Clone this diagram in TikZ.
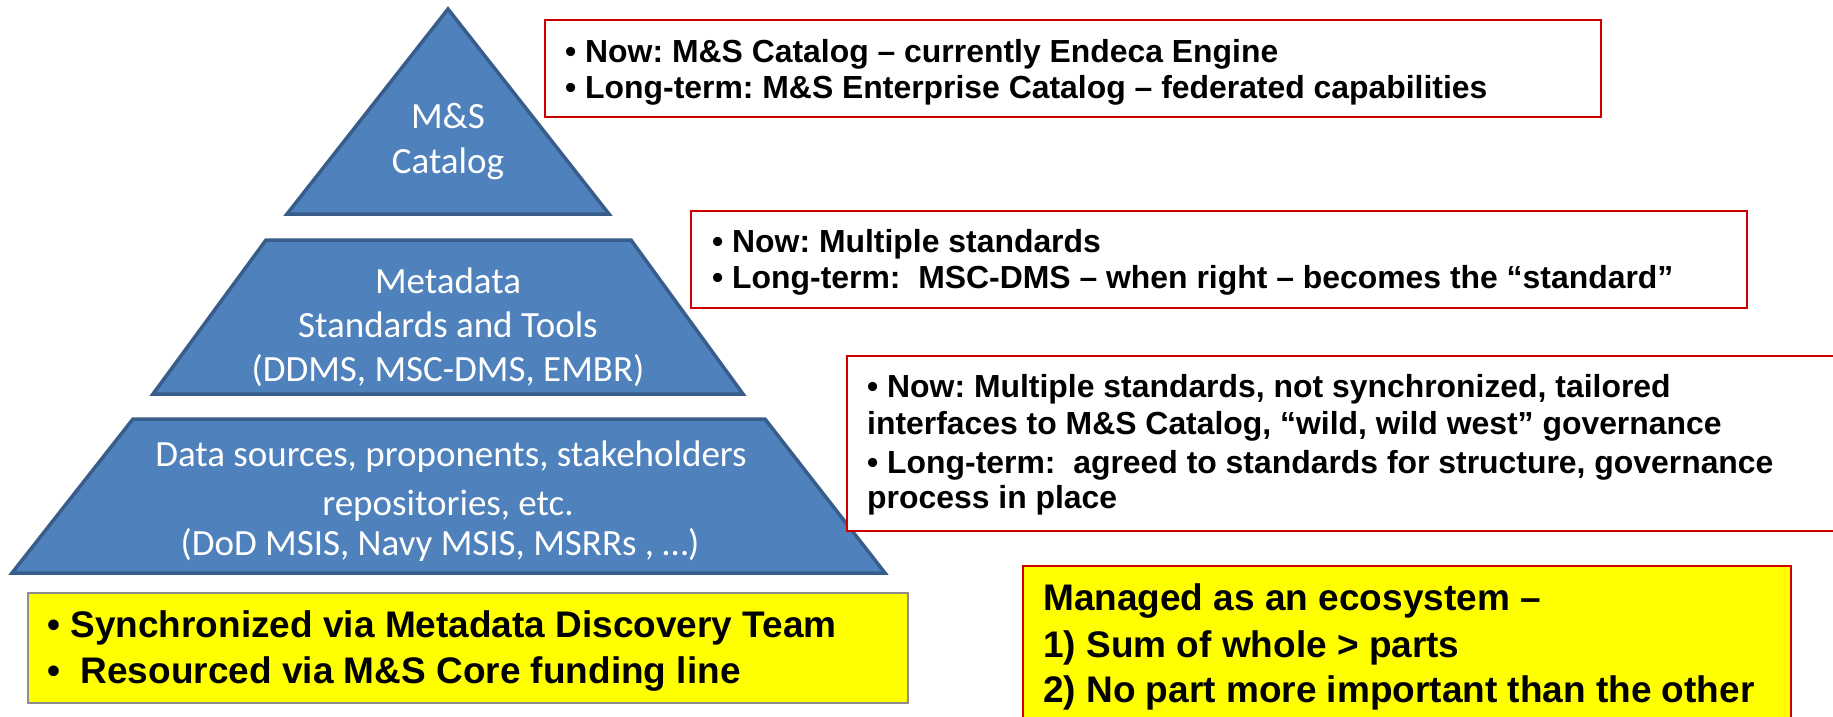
\documentclass[tikz,border=0pt]{standalone}
\usepackage{fontspec}
\setmainfont{Liberation Sans}
\newfontfamily\calfont{Carlito}
\frenchspacing
\definecolor{pyrfill}{RGB}{79,129,189}
\definecolor{pyrdraw}{RGB}{56,93,138}
\definecolor{boxred}{RGB}{204,0,0}
\definecolor{boxgray}{RGB}{140,140,140}
\definecolor{hiyellow}{RGB}{255,255,0}
\tikzset{
  layer/.style={fill=pyrfill, draw=pyrdraw, line width=3.5pt, line join=miter},
  notebox/.style={draw=boxred, line width=2.5pt, fill=white},
  yelbox/.style={fill=hiyellow, line width=2.5pt},
  pyrtxt/.style={anchor=base, inner sep=0pt, text=white, font=\calfont\fontsize{37}{44}\selectfont},
  notetxt/.style={anchor=base west, inner sep=0pt, font=\frenchspacing\bfseries\fontsize{31.9}{38}\selectfont},
  bigtxt/.style={anchor=base west, inner sep=0pt, font=\frenchspacing\bfseries\fontsize{37}{44}\selectfont},
}
\begin{document}
\begin{tikzpicture}[x=1pt,y=-1pt]
\clip (0,0) rectangle (1833,716);
\fill[white] (0,0) rectangle (1833,716);
% pyramid layers
\draw[layer] (448,9) -- (609,214) -- (287,214) -- cycle;
\draw[layer] (266,240) -- (631,240) -- (743,394) -- (153,394) -- cycle;
\draw[layer] (133,419) -- (765,419) -- (885,573) -- (12,573) -- cycle;
\node[pyrtxt] (t1) at (448,128) {M\&S};
\node[pyrtxt] (t2) at (448,173) {Catalog};
\node[pyrtxt] (m1) at (448,293) {Metadata};
\node[pyrtxt] (m2) at (448,337) {Standards and Tools};
\node[pyrtxt] (m3) at (448,381) {(DDMS, MSC-DMS, EMBR)};
\node[pyrtxt] (d1) at (451,466) {Data sources, proponents, stakeholders};
\node[pyrtxt] (d2) at (448,515) {repositories, etc.};
\node[pyrtxt] (d3) at (440,555) {(DoD MSIS, Navy MSIS, MSRRs , …)};
% note boxes
\draw[notebox] (545,20) rectangle (1601,117);
\node[notetxt] (a1) at (565,62) {• Now: M\&S Catalog – currently Endeca Engine};
\node[notetxt] (a2) at (565,98) {• Long-term: M\&S Enterprise Catalog – federated capabilities};
\draw[notebox] (691,211) rectangle (1747,308);
\node[notetxt] (b1) at (712,252) {• Now: Multiple standards};
\node[notetxt] (b2) at (712,288) {• Long-term:\ \ MSC-DMS – when right – becomes the “standard”};
\draw[notebox] (847,356) rectangle (1845,531);
\node[notetxt] (c1) at (867,397) {• Now: Multiple standards, not synchronized, tailored};
\node[notetxt] (c2) at (867,434) {interfaces to M\&S Catalog, “wild, wild west” governance};
\node[notetxt] (c3) at (867,473) {• Long-term:\ \ agreed to standards for structure, governance};
\node[notetxt] (c4) at (867,508) {process in place};
% yellow boxes
\draw[yelbox, draw=boxgray] (28,593) rectangle (908,703);
\node[bigtxt] (y1) at (47,637) {• Synchronized via Metadata Discovery Team};
\node[bigtxt] (y2) at (47,683) {•\ \ Resourced via M\&S Core funding line};
\draw[yelbox, draw=boxred] (1023,566) rectangle (1791,725);
\node[bigtxt] (z1) at (1043,610) {Managed as an ecosystem –};
\node[bigtxt] (z2) at (1043,657) {1) Sum of whole > parts};
\node[bigtxt] (z3) at (1043,702) {2) No part more important than the other};
\end{tikzpicture}
\end{document}
